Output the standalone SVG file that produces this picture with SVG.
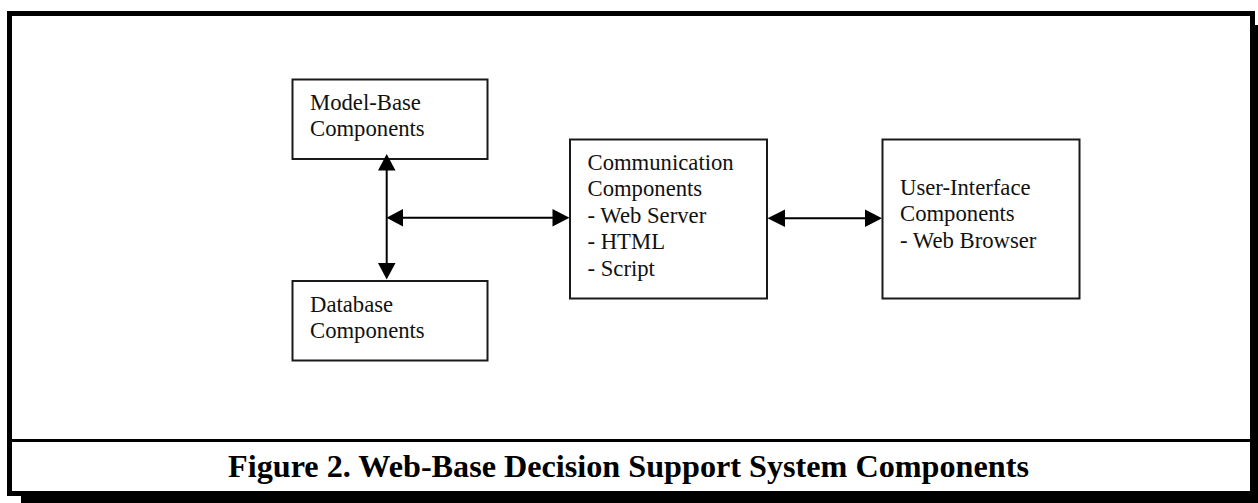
<svg xmlns="http://www.w3.org/2000/svg" width="1258" height="503" viewBox="0 0 1258 503">
  <style>
    .box { fill: #ffffff; stroke: #1a1a1a; stroke-width: 2; }
    .lbl { font-family: "Liberation Serif", "Times New Roman", serif; font-size: 22.7px; fill: #111111; }
    .cap { font-family: "Liberation Serif", "Times New Roman", serif; font-size: 32.2px; font-weight: bold; fill: #000000; }
    .wire { stroke: #000000; stroke-width: 2; fill: none; }
    .head { fill: #000000; stroke: none; }
  </style>

  <!-- page frame with drop shadow -->
  <g id="frame">
    <rect x="21" y="25" width="1250" height="490" fill="#000000"/>
    <rect x="9.5" y="13.5" width="1243" height="480" fill="#ffffff" stroke="#000000" stroke-width="5"/>
    <line x1="12" y1="440.5" x2="1250" y2="440.5" stroke="#000000" stroke-width="3"/>
  </g>

  <g id="model-base">
    <rect class="box" x="292.5" y="79.5" width="195" height="79.5"/>
    <text class="lbl" x="310" y="109.5">Model-Base</text>
    <text class="lbl" x="310" y="135.5">Components</text>
  </g>

  <g id="database">
    <rect class="box" x="292.5" y="281" width="195" height="79.5"/>
    <text class="lbl" x="310" y="311.5">Database</text>
    <text class="lbl" x="310" y="337.5">Components</text>
  </g>

  <g id="communication">
    <rect class="box" x="570" y="139.5" width="197" height="159"/>
    <text class="lbl" x="587.5" y="169.5">Communication</text>
    <text class="lbl" x="587.5" y="196">Components</text>
    <text class="lbl" x="587.5" y="222.5">- Web Server</text>
    <text class="lbl" x="587.5" y="249">- HTML</text>
    <text class="lbl" x="587.5" y="275.5">- Script</text>
  </g>

  <g id="user-interface">
    <rect class="box" x="882.5" y="139.5" width="197" height="159"/>
    <text class="lbl" x="900" y="195">User-Interface</text>
    <text class="lbl" x="900" y="221">Components</text>
    <text class="lbl" x="900" y="247.5">- Web Browser</text>
  </g>

  <g id="connectors">
    <!-- vertical link between model base and database -->
    <line class="wire" x1="386.7" y1="168" x2="386.7" y2="265"/>
    <polygon class="head" points="386.7,154 378,170.5 395.5,170.5"/>
    <polygon class="head" points="386.7,279.5 378,263 395.5,263"/>
    <!-- branch to communication -->
    <line class="wire" x1="400" y1="217.7" x2="555" y2="217.7"/>
    <polygon class="head" points="386.5,217.7 403,209 403,226.4"/>
    <polygon class="head" points="569.5,217.7 552.5,209 552.5,226.4"/>
    <!-- communication to user interface -->
    <line class="wire" x1="782" y1="218.3" x2="868" y2="218.3"/>
    <polygon class="head" points="767.5,218.3 785,209.6 785,227"/>
    <polygon class="head" points="882,218.3 865,209.6 865,227"/>
  </g>

  <g id="caption">
    <text class="cap" x="628.5" y="477" text-anchor="middle">Figure 2. Web-Base Decision Support System Components</text>
  </g>
</svg>
